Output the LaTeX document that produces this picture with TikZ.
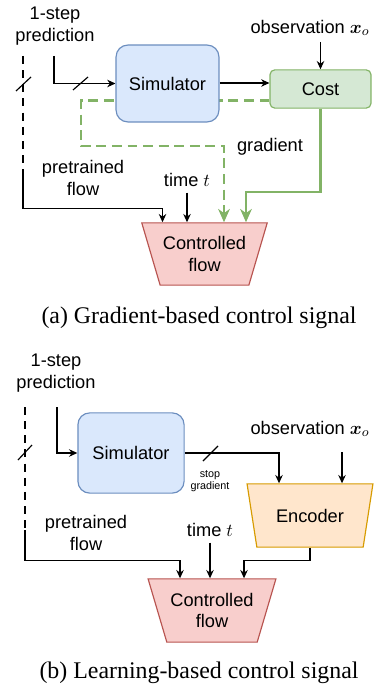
\documentclass[tikz,border=0pt]{standalone}
\usepackage{amsmath}
\usepackage{fontspec}
\setmainfont{Liberation Serif}
\setsansfont{Liberation Sans}
\usepackage{xcolor}
\usepackage{tikz}
\usetikzlibrary{shapes.geometric, arrows.meta, positioning, backgrounds, calc}
\definecolor{simblue}{RGB}{218, 232, 252}
\definecolor{simline}{RGB}{108, 142, 191}
\definecolor{costgreen}{RGB}{213, 232, 212}
\definecolor{gradgreen}{RGB}{130, 179, 102}
\definecolor{flowred}{RGB}{248, 206, 204}
\definecolor{flowline}{RGB}{184, 84, 80}
\definecolor{encorange}{RGB}{255, 230, 204}
\definecolor{encline}{RGB}{215, 155, 0}

\begin{document}
\begin{tikzpicture}[
    x=0.0212cm, y=-0.0212cm,
    every node/.style={font=\sffamily\fontsize{11}{13.2}\selectfont},
    label/.style={align=center},
    simbox/.style={draw=simline, fill=simblue, rounded corners=0.25cm, line width=0.7pt},
    costbox/.style={draw=gradgreen, fill=costgreen, rounded corners=0.1cm, line width=0.7pt,
                    minimum width=2.14cm, minimum height=0.81cm},
    flowbox/.style={trapezium, shape border rotate=180, trapezium angle=64,
                    trapezium stretches=true, align=center, inner sep=0pt,
                    draw=flowline, fill=flowred, line width=0.7pt,
                    minimum width=2.66cm, minimum height=1.32cm},
    conn/.style={line width=0.7pt, -{Stealth[length=5pt, width=4.5pt]}},
    gconn/.style={draw=gradgreen, line width=1.5pt, -{Stealth[length=8pt, width=7pt, inset=2.5pt]}},
    gdash/.style={gconn, dash pattern=on 0.21cm off 0.12cm},
    flowdash/.style={line width=0.7pt, dash pattern=on 0.17cm off 0.13cm},
    slash/.style={line width=0.7pt},
    caption/.style={font=\rmfamily\fontsize{14.4}{17}\selectfont}
]
    \useasboundingbox (0,0) rectangle (373,688);

    % (a) gradient-based control
    \node[label] (preda) at (55,26) {1-step\\prediction};
    \node[simbox, minimum width=2.18cm, minimum height=1.63cm] (sima) at (167.5,83.5) {Simulator};
    \node[costbox] (costa) at (320.5,89) {Cost};
    \node[label] (obsa) at (310,28) {observation $\boldsymbol{x}_o$};
    \node[label] (grada) at (270,147) {gradient};
    \node[label] (prea) at (83,178) {pretrained\\flow};
    \node[label] (timea) at (187,180) {time $t$};
    \node[flowbox] (ctrla) at (204.5,254) {Controlled\\flow};
    \coordinate (ina) at (54,56);
    \coordinate (pfa) at (23,56);
    \coordinate (pfa2) at (23,174);
    \coordinate (gd1) at (81,146);
    \coordinate (gd2) at (224,146);
    \coordinate (gs1) at (246,192);

    \begin{scope}[on background layer]
        \draw[conn] (ina) |- (sima);
        \draw[conn] (sima.east |- 0,83) -- (costa.west |- 0,83);
        \draw[conn] (obsa.south -| costa.north) -- (costa.north);
        \draw[flowdash] (pfa) -- (pfa2);
        \draw[conn] (pfa2) |- ($(ctrla.north)+(-42,-14)$) -- ($(ctrla.north)+(-42,0)$);
        \draw[conn] (timea.south) -- (timea.south |- ctrla.north);
        \draw[gdash] ([yshift=0.17cm]costa.south west) -| (gd1) -- (gd2) -- (gd2 |- ctrla.north);
        \draw[gconn] (costa.south) |- (gs1) -- (gs1 |- ctrla.north);
    \end{scope}
    \draw[slash] (73,90) -- (88,77);
    \draw[slash] (16,91) -- (31,77);

    \node[caption] (capa) at (199,318) {(a) Gradient-based control signal};

    % (b) learning-based control
    \node[label] (predb) at (56,373) {1-step\\prediction};
    \node[simbox, minimum width=2.25cm, minimum height=1.70cm] (simb) at (131,453) {Simulator};
    \node[label] (obsb) at (310,429) {observation $\boldsymbol{x}_o$};
    \node[label, font=\sffamily\fontsize{6.5}{7.2}\selectfont] (stopg) at (210,481) {stop\\gradient};
    \node[flowbox, draw=encline, fill=encorange, trapezium angle=65,
          minimum width=2.67cm, minimum height=1.34cm] (enc) at (310,515.5) {Encoder};
    \node[label] (preb) at (86,533) {pretrained\\flow};
    \node[label] (timeb) at (210,530) {time $t$};
    \node[flowbox, minimum width=2.71cm, minimum height=1.34cm] (ctrlb) at (212,610.5) {Controlled\\flow};
    \coordinate (inb) at (57,407);
    \coordinate (pfb) at (25,407);
    \coordinate (pfb2) at (25,530);

    \begin{scope}[on background layer]
        \draw[conn] (inb) |- (simb);
        \draw[conn] (simb.east) -| ($(enc.north)+(-31,0)$);
        \draw[conn] ($(enc.north)+(32,-31)$) -- ($(enc.north)+(32,0)$);
        \draw[flowdash] (pfb) -- (pfb2);
        \draw[conn] (pfb2) |- ($(ctrlb.north)+(-32,-18)$) -- ($(ctrlb.north)+(-32,0)$);
        \draw[conn] (timeb.south) -- (timeb.south |- ctrlb.north);
        \draw[conn] (enc.south) |- ($(ctrlb.north)+(32,-18)$) -- ($(ctrlb.north)+(32,0)$);
    \end{scope}
    \draw[slash] (18,460) -- (32,445);
    \draw[slash] (203,461) -- (218,446);

    \node[caption] (capb) at (199,673) {(b) Learning-based control signal};
\end{tikzpicture}
\end{document}
